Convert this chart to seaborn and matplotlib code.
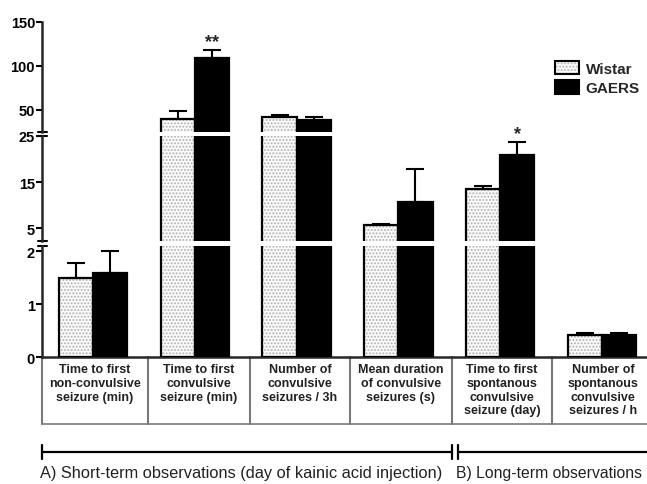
import numpy as np
import pandas as pd
import matplotlib
matplotlib.use("Agg")
import matplotlib.pyplot as plt
from matplotlib.patches import Patch, Rectangle
from matplotlib.legend_handler import HandlerTuple
import seaborn as sns

# ---- data -------------------------------------------------------------
categories = [
    "Time to first\nnon-convulsive\nseizure (min)",
    "Time to first\nconvulsive\nseizure (min)",
    "Number of\nconvulsive\nseizures / 3h",
    "Mean duration\nof convulsive\nseizures (s)",
    "Time to first\nspontanous\nconvulsive\nseizure (day)",
    "Number of\nspontanous\nconvulsive\nseizures / h",
]
strains = ["Wistar", "GAERS"]
wistar_mean = [1.50, 39.8, 41.7, 5.65, 13.5, 0.41]
wistar_sem = [0.27, 9.4, 3.0, 0.25, 0.6, 0.05]
gaers_mean = [1.59, 108.8, 38.6, 10.7, 20.9, 0.42]
gaers_sem = [0.41, 9.4, 3.1, 7.1, 2.7, 0.04]
significance = ["", "**", "", "", "*", ""]

# broken y axis: (low, high, ticks) for each segment, top to bottom
segments = [
    (25, 150, [50, 100, 150]),
    (2.2, 25, [5, 15, 25]),
    (0, 2.1, [0, 1, 2]),
]

section_a = "A) Short-term observations (day of kainic acid injection)"
section_b = "B) Long-term observations"

df = pd.DataFrame({
    "measure": categories * 2,
    "strain": ["Wistar"] * len(categories) + ["GAERS"] * len(categories),
    "value": wistar_mean + gaers_mean,
})
sems = {"Wistar": wistar_sem, "GAERS": gaers_sem}
means = {"Wistar": wistar_mean, "GAERS": gaers_mean}

# ---- style ------------------------------------------------------------
sns.set_style("white")
plt.rcParams["font.family"] = ["Liberation Sans", "DejaVu Sans"]
plt.rcParams["hatch.linewidth"] = 0.9

W, H = 647, 485
fig = plt.figure(figsize=(W / 100, H / 100), dpi=100)

dot_face = "#fafafa"
dot_color = "#b0b0b0"
palette = {"Wistar": dot_face, "GAERS": "black"}

# pixel extents of each axis segment (top, bottom)
seg_px = [(23, 133), (137, 242), (247, 358)]
ax_left, ax_right = 42, 653

axes = []
for (lo, hi, ticks), (ptop, pbot) in zip(segments, seg_px):
    ax = fig.add_axes([ax_left / W, 1 - pbot / H,
                       (ax_right - ax_left) / W, (pbot - ptop) / H])
    sns.barplot(data=df, x="measure", y="value", hue="strain",
                order=categories, hue_order=strains, palette=palette,
                width=0.67, errorbar=None, legend=False, ax=ax,
                edgecolor="black", linewidth=0, saturation=1)
    # dotted fill for Wistar, black outlines for every bar
    for strain, cont in zip(strains, ax.containers):
        for bar in cont:
            if strain == "Wistar":
                bar.set_hatch(".....")
                bar.set_edgecolor(dot_color)
            bar.set_linewidth(0)
            ax.add_patch(Rectangle(bar.get_xy(), bar.get_width(), bar.get_height(),
                                   fill=False, ec="black", lw=1.6, zorder=3))
        xs = [b.get_x() + b.get_width() / 2 for b in cont]
        for x, m, s, sig in zip(xs, means[strain], sems[strain], significance):
            # each error bar lives in the segment that holds its upper end
            if not (lo <= m + s <= hi):
                continue
            ax.errorbar([x], [m], yerr=[[0], [s]], fmt="none", ecolor="black",
                        elinewidth=1.5, capsize=6.2, capthick=1.5, zorder=2)
            if sig and strain == "GAERS":
                ax.annotate(sig, (x, m + s), xytext=(0, 0),
                            textcoords="offset points", ha="center",
                            va="bottom", fontsize=13, fontweight="bold")
    ax.set_ylim(lo, hi)
    ax.set_xlim(-0.5, len(categories) - 0.5)
    ax.set_yticks(ticks)
    ax.set_yticklabels([str(t) for t in ticks], fontweight="bold", fontsize=10.5)
    ax.set_xticks([])
    ax.set_xlabel("")
    ax.set_ylabel("")
    ax.tick_params(axis="y", direction="out", length=4, width=1.5, pad=1,
                   left=True, colors="black")
    for side in ("top", "right"):
        ax.spines[side].set_visible(False)
    ax.spines["left"].set_linewidth(1.8)
    ax.spines["bottom"].set_visible(False)
    ax.patch.set_alpha(0)
    axes.append(ax)

axes[-1].spines["bottom"].set_visible(True)
axes[-1].spines["bottom"].set_linewidth(1.8)

# break marks on the y axis
mark = 4.5 / (ax_right - ax_left)
for i, ax in enumerate(axes):
    if i > 0:
        ax.plot([-mark, mark], [1, 1], transform=ax.transAxes, color="black",
                lw=1.5, clip_on=False)
    if i < len(axes) - 1:
        ax.plot([-mark, mark], [0, 0], transform=ax.transAxes, color="black",
                lw=1.5, clip_on=False)

# legend
wistar_handle = (Patch(facecolor=dot_face, edgecolor=dot_color, hatch=".....", lw=0),
                 Patch(facecolor="none", edgecolor="black", lw=1.5))
gaers_handle = Patch(facecolor="black", edgecolor="black", lw=1.5)
fig.legend([wistar_handle, gaers_handle], strains,
           handler_map={tuple: HandlerTuple(ndivide=1)},
           loc="upper left", bbox_to_anchor=(555 / W, 1 - 62 / H),
           frameon=False, prop={"weight": "bold", "size": 11},
           handlelength=1.6, handleheight=0.95, handletextpad=0.4,
           labelspacing=0.3, borderpad=0, borderaxespad=0)

# label table and section bracket beneath the axis
ov = fig.add_axes([0, 0, 1, 1], zorder=-1)
ov.set_xlim(0, W)
ov.set_ylim(H, 0)
ov.axis("off")

cell_edges = [42, 148, 250, 350, 452, 552, 654]
grid_color = "#7a7a7a"
for x in cell_edges:
    ov.plot([x, x], [358, 425], color=grid_color, lw=1.5)
ov.plot([cell_edges[0], cell_edges[-1]], [425, 425], color=grid_color, lw=1.2)
for i, label in enumerate(categories):
    cx = (cell_edges[i] + cell_edges[i + 1]) / 2
    ov.text(cx, 364, label, ha="center", va="top", multialignment="center",
            fontsize=9, fontweight="bold", color="#222222", linespacing=1.2)

bracket_y = 453
ov.plot([42, 451.5], [bracket_y, bracket_y], color="black", lw=1.6)
ov.plot([458, W + 5], [bracket_y, bracket_y], color="black", lw=1.6)
for x in (42, 451.5, 458):
    ov.plot([x, x], [446, 460], color="black", lw=1.6)

ov.text(40, 474, section_a, ha="left", va="center", fontsize=11.8, color="#222222")
ov.text(456, 474, section_b, ha="left", va="center", fontsize=11.3, color="#222222")

fig.savefig("out.png", dpi=100)
